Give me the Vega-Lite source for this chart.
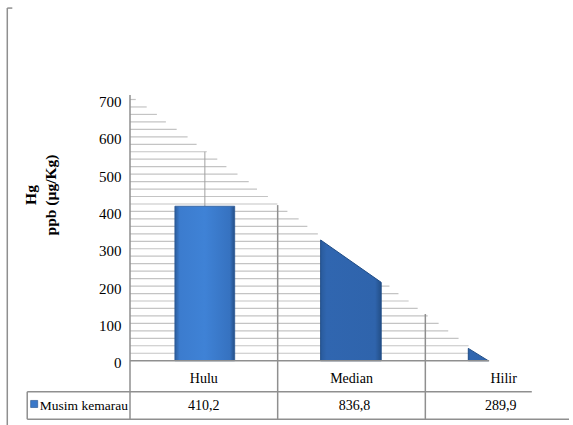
{
  "$schema": "https://vega.github.io/schema/vega-lite/v6.json",
  "width": 443,
  "height": 261.2,
  "autosize": "none",
  "padding": {"left": 130, "top": 99.5, "right": 0, "bottom": 64.3},
  "background": "white",
  "config": {
    "view": {"stroke": null},
    "font": "'Liberation Serif', 'Times New Roman', serif",
    "axisY": {
      "domain": false, "ticks": false, "grid": false, "labelOverlap": false, "tickCount": 8,
      "labelPadding": 9, "labelFontSize": 15, "labelColor": "#000000",
      "labelFont": "'Liberation Serif', 'Times New Roman', serif", "labelOffset": 2,
      "titleFont": "'Liberation Serif', 'Times New Roman', serif", "titleFontSize": 15.5, "titleFontWeight": "bold",
      "titleColor": "#000000", "titleAngle": 270, "titleAlign": "center",
      "titleBaseline": "middle", "titleLineHeight": 20,
      "titleX": -100, "titleY": 95
    }
  },
  "datasets": {
    "grid": [
      {"v": 700, "start": 0, "end": 0.039}, {"v": 680, "start": 0, "end": 0.113}, {"v": 660, "start": 0, "end": 0.182}, {"v": 640, "start": 0, "end": 0.243},
      {"v": 620, "start": 0, "end": 0.316}, {"v": 600, "start": 0, "end": 0.390}, {"v": 580, "start": 0, "end": 0.451}, {"v": 560, "start": 0, "end": 0.520},
      {"v": 540, "start": 0, "end": 0.591}, {"v": 520, "start": 0, "end": 0.653}, {"v": 500, "start": 0, "end": 0.728}, {"v": 480, "start": 0, "end": 0.804},
      {"v": 460, "start": 0, "end": 0.860}, {"v": 440, "start": 0, "end": 0.934}, {"v": 420, "start": 0, "end": 0.998}, {"v": 400, "start": 0, "end": 1.066},
      {"v": 380, "start": 0, "end": 1.142}, {"v": 360, "start": 0, "end": 1.201}, {"v": 340, "start": 0, "end": 1.272}, {"v": 320, "start": 0, "end": 1.291},
      {"v": 300, "start": 0, "end": 1.35}, {"v": 280, "start": 0, "end": 1.35}, {"v": 260, "start": 0, "end": 1.35}, {"v": 240, "start": 0, "end": 1.35},
      {"v": 220, "start": 0, "end": 1.35}, {"v": 200, "start": 0, "end": 1.757}, {"v": 180, "start": 0, "end": 1.818}, {"v": 160, "start": 0, "end": 1.887},
      {"v": 140, "start": 0, "end": 1.948}, {"v": 120, "start": 0, "end": 2.016}, {"v": 100, "start": 0, "end": 2.090}, {"v": 80, "start": 0, "end": 2.155},
      {"v": 60, "start": 0, "end": 2.225}, {"v": 40, "start": 0, "end": 2.293}, {"v": 20, "start": 0, "end": 2.331}
    ],
    "vlines": [
      {"x": 0, "top": 712, "bottom": -157.1},
      {"x": 1, "top": 417, "bottom": -157.1},
      {"x": 2, "top": 125, "bottom": -157.1},
      {"x": -0.696, "top": -83.1, "bottom": -157.1},
      {"x": -0.831, "top": 945, "bottom": -180}
    ],
    "hlines": [
      {"y": 0, "x1": 0, "x2": 2.432},
      {"y": -83.1, "x1": -0.696, "x2": 2.721},
      {"y": -157.1, "x1": -0.696, "x2": 2.973},
      {"y": 945, "x1": -0.831, "x2": -0.797}
    ],
    "err": [{"x": 0.507, "top": 560, "bottom": 414}],
    "hulu": [{"lokasi": "Hulu", "x1": 0.304, "x2": 0.709, "top": 414, "base": 0}],
    "slopes": [
      {"lokasi": "Median", "x": 1.291, "y": 323.5, "base": 0},
      {"lokasi": "Median", "x": 1.701, "y": 210, "base": 0},
      {"lokasi": "Hilir", "x": 2.291, "y": 33, "base": 0},
      {"lokasi": "Hilir", "x": 2.426, "y": 0, "base": 0}
    ],
    "header": [
      {"label": "Hulu", "pos": 0.5, "y": -49},
      {"label": "Median", "pos": 1.5, "y": -49},
      {"label": "Hilir", "pos": 2.53, "y": -49}
    ],
    "values": [
      {"label": "410,2", "pos": 0.5, "y": -121.4},
      {"label": "836,8", "pos": 1.52, "y": -121.4},
      {"label": "289,9", "pos": 2.51, "y": -121.4}
    ],
    "legend": [{"series": "Musim kemarau", "pos": -0.649, "textpos": -0.611, "y": -121.4, "sy": -116}]
  },
  "layer": [
    {
      "data": {"name": "grid"},
      "mark": {"type": "rule", "color": "#c4c4c4", "strokeWidth": 1.2},
      "encoding": {
        "y": {
          "field": "v", "type": "quantitative",
          "scale": {"domain": [0, 700], "nice": false, "zero": false},
          "axis": {
            "values": [0, 100, 200, 300, 400, 500, 600, 700],
            "title": ["Hg", "ppb (µg/Kg)"]
          }
        },
        "x": {"field": "start", "type": "quantitative", "scale": {"domain": [0, 3], "nice": false, "zero": false}, "axis": null},
        "x2": {"field": "end"}
      }
    },
    {
      "data": {"name": "err"},
      "mark": {"type": "rule", "color": "#a0a0a0", "strokeWidth": 1},
      "encoding": {
        "x": {"field": "x", "type": "quantitative"},
        "y": {"field": "top", "type": "quantitative"},
        "y2": {"field": "bottom"}
      }
    },
    {
      "data": {"name": "vlines"},
      "mark": {"type": "rule", "color": "#8f8f8f", "strokeWidth": 1.5},
      "encoding": {
        "x": {"field": "x", "type": "quantitative"},
        "y": {"field": "top", "type": "quantitative"},
        "y2": {"field": "bottom"}
      }
    },
    {
      "data": {"name": "hulu"},
      "mark": {
        "type": "rect",
        "stroke": "#2a5896", "strokeWidth": 0.8,
        "fill": {
          "gradient": "linear", "x1": 0, "y1": 0, "x2": 1, "y2": 0,
          "stops": [
            {"offset": 0, "color": "#2c5d9c"},
            {"offset": 0.08, "color": "#3c7cce"},
            {"offset": 0.5, "color": "#3f82d6"},
            {"offset": 0.92, "color": "#3672c0"},
            {"offset": 1, "color": "#264f86"}
          ]
        }
      },
      "encoding": {
        "x": {"field": "x1", "type": "quantitative"},
        "x2": {"field": "x2"},
        "y": {"field": "top", "type": "quantitative"},
        "y2": {"field": "base"}
      }
    },
    {
      "data": {"name": "slopes"},
      "mark": {
        "type": "area",
        "stroke": "#1f4c86", "strokeWidth": 1,
        "fill": {
          "gradient": "linear", "x1": 0, "y1": 0, "x2": 1, "y2": 0,
          "stops": [
            {"offset": 0, "color": "#2a5b9c"},
            {"offset": 0.1, "color": "#3066b0"},
            {"offset": 0.9, "color": "#2f64ac"},
            {"offset": 1, "color": "#234f88"}
          ]
        }
      },
      "encoding": {
        "x": {"field": "x", "type": "quantitative"},
        "y": {"field": "y", "type": "quantitative", "stack": null},
        "y2": {"field": "base"},
        "detail": {"field": "lokasi", "type": "nominal"}
      }
    },
    {
      "data": {"name": "hlines"},
      "mark": {"type": "rule", "color": "#8f8f8f", "strokeWidth": 1.5},
      "encoding": {
        "x": {"field": "x1", "type": "quantitative"},
        "x2": {"field": "x2"},
        "y": {"field": "y", "type": "quantitative"}
      }
    },
    {
      "data": {"name": "header"},
      "mark": {"type": "text", "font": "'Liberation Serif', 'Times New Roman', serif", "fontSize": 14, "color": "#000000", "baseline": "middle", "align": "center"},
      "encoding": {
        "x": {"field": "pos", "type": "quantitative"},
        "y": {"field": "y", "type": "quantitative"},
        "text": {"field": "label", "type": "nominal"}
      }
    },
    {
      "data": {"name": "values"},
      "mark": {"type": "text", "font": "'Liberation Serif', 'Times New Roman', serif", "fontSize": 14, "color": "#000000", "baseline": "middle", "align": "center"},
      "encoding": {
        "x": {"field": "pos", "type": "quantitative"},
        "y": {"field": "y", "type": "quantitative"},
        "text": {"field": "label", "type": "nominal"}
      }
    },
    {
      "data": {"name": "legend"},
      "mark": {"type": "text", "font": "'Liberation Serif', 'Times New Roman', serif", "fontSize": 13.5, "color": "#000000", "baseline": "middle", "align": "left"},
      "encoding": {
        "x": {"field": "textpos", "type": "quantitative"},
        "y": {"field": "y", "type": "quantitative"},
        "text": {"field": "series", "type": "nominal"}
      }
    },
    {
      "data": {"name": "legend"},
      "mark": {"type": "point", "shape": "square", "filled": true, "size": 50, "color": "#3a78c8", "stroke": "#244f88", "strokeWidth": 0.6, "opacity": 1},
      "encoding": {
        "x": {"field": "pos", "type": "quantitative"},
        "y": {"field": "sy", "type": "quantitative"}
      }
    }
  ]
}
